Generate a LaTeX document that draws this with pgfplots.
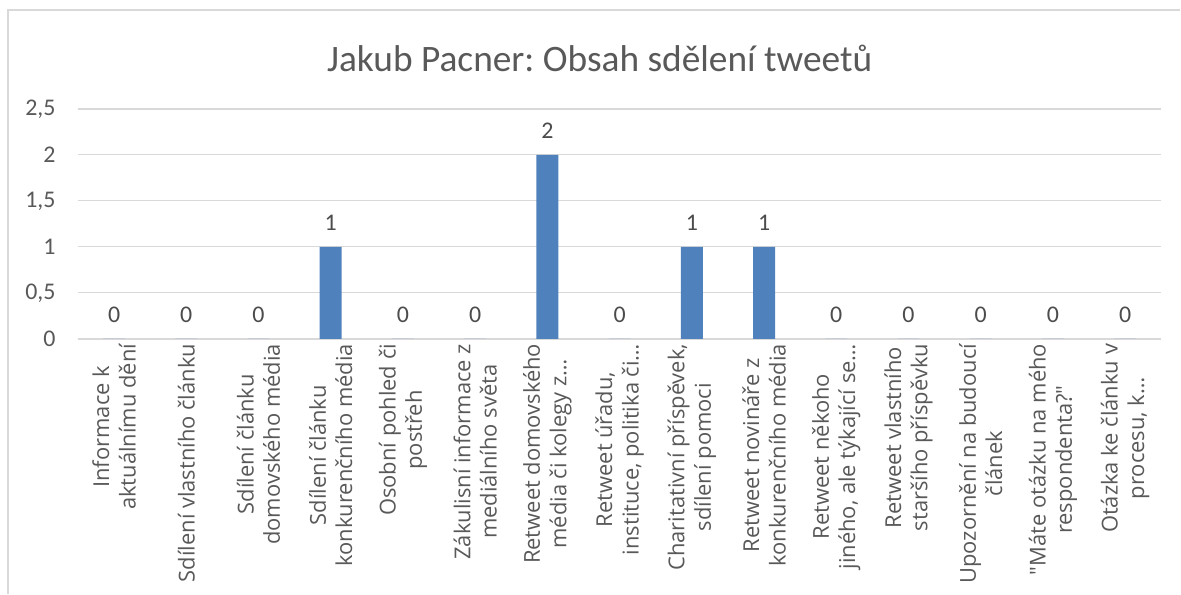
\documentclass[border=0pt]{standalone}
\usepackage{pgfplots}
\pgfplotsset{compat=1.18}
\usepackage{fontspec}
\setmainfont{Carlito}
\newfontfamily\labfont{Open Sans}
\definecolor{barblue}{HTML}{4F81BD}
\definecolor{txtgray}{HTML}{595959}
\definecolor{gridgray}{HTML}{D9D9D9}
\begin{document}
\frenchspacing
\begin{tikzpicture}[x=1bp,y=1bp]
\path[fill=white] (0,0) rectangle (1181,594);
\draw[gridgray,line width=1.5bp] (8,0) -- (8,584) -- (1181,584);
\node[text=txtgray,font=\fontsize{37.5}{42}\selectfont] at (600,536) {Jakub Pacner: Obsah sdělení tweetů};
\begin{axis}[
  at={(78bp,255bp)}, anchor=south west,
  scale only axis, width=1084bp, height=230bp,
  xmin=-0.5, xmax=14.5, ymin=0, ymax=2.5,
  ytick={0,0.5,1,1.5,2,2.5},
  /pgf/number format/use comma,
  /pgf/number format/assume math mode=true,
  yticklabel style={text=txtgray,font=\fontsize{24}{28}\selectfont, xshift=-19bp},
  ymajorgrids, grid style={gridgray,line width=1.2bp},
  major tick length=0pt,
  axis line style={draw=none},
  extra y ticks={0}, extra y tick labels={},
  extra y tick style={grid style={gridgray,line width=1.5bp}},
  xtick={0,...,14},
  xticklabels={
    {Informace k\\aktuálnímu dění},
    {Sdílení vlastního článku},
    {Sdílení článku\\domovského média},
    {Sdílení článku\\konkurenčního média},
    {Osobní pohled či\\postřeh},
    {Zákulisní informace z\\mediálního světa},
    {Retweet domovského\\média či kolegy z…},
    {Retweet úřadu,\\instituce, politika či…},
    {Charitativní příspěvek,\\sdílení pomoci},
    {Retweet novináře z\\konkurenčního média},
    {Retweet někoho\\jiného, ale týkající se…},
    {Retweet vlastního\\staršího příspěvku},
    {Upozornění na budoucí\\článek},
    {"Máte otázku na mého\\respondenta?"},
    {Otázka ke článku v\\procesu, k…}},
  xticklabel style={rotate=90, anchor=east, align=center, text=txtgray,
    font=\labfont\fontsize{22}{26.5}\selectfont, inner sep=5bp},
  clip=false,
]
\addplot[ybar, bar width=22bp, fill=barblue, draw=none,
  nodes near coords, every node near coord/.append style={text=txtgray!85!black,
  font=\fontsize{24}{28}\selectfont, yshift=13bp}]
  coordinates {(0,0) (1,0) (2,0) (3,1) (4,0) (5,0) (6,2) (7,0) (8,1) (9,1) (10,0) (11,0) (12,0) (13,0) (14,0)};
\end{axis}
\end{tikzpicture}
\end{document}
